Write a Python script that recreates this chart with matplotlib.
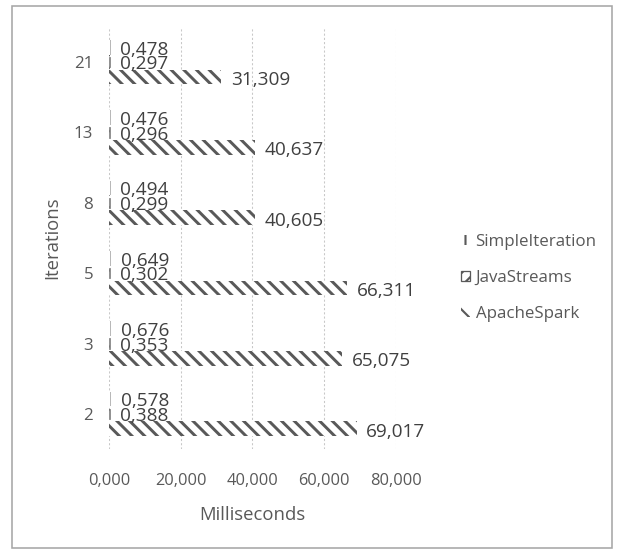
import matplotlib.pyplot as plt
from matplotlib.patches import Rectangle, Patch
import numpy as np

iterations = ["2", "3", "5", "8", "13", "21"]
simple_iteration = [0.578, 0.676, 0.649, 0.494, 0.476, 0.478]
java_streams = [0.388, 0.353, 0.302, 0.299, 0.296, 0.297]
apache_spark = [69.017, 65.075, 66.311, 40.605, 40.637, 31.309]
x_ticks = [0, 20, 40, 60, 80]

plt.rcParams['font.family'] = ['Open Sans', 'DejaVu Sans']

DPI = 76
fig = plt.figure(figsize=(617 / DPI, 549 / DPI), dpi=DPI)
ax = fig.add_axes([109 / 617, 1 - 449 / 549, (396 - 109) / 617, (449 - 27) / 549])

hatch_col = '#595959'
label_col = '#404040'
tick_col = '#595959'

y = np.arange(len(iterations))
h = 0.21

def fmt(v):
    return ("%.3f" % v).replace('.', ',')

series = [
    (simple_iteration, h, '||', 'SimpleIteration', -2, 1.0, '#9a9a9a'),
    (java_streams, 0, '//', 'JavaStreams', -2, 1.5, hatch_col),
    (apache_spark, -h, '\\\\', 'ApacheSpark', -3, 2.8, hatch_col),
]
for vals, off, hatch, name, dy, hlw, hcol in series:
    plt.rcParams['hatch.linewidth'] = hlw
    ax.barh(y + off, vals, height=h, color='white', edgecolor=hcol,
            linewidth=0, hatch=hatch, zorder=2)
    if name == 'JavaStreams':
        ax.barh(y + off, vals, height=h * 0.7, fill=False, edgecolor='#7f7f7f',
                linewidth=0.8, zorder=2)
    for yy, v in zip(y + off, vals):
        ax.annotate(fmt(v), (v, yy), xytext=(9, dy),
                    textcoords='offset points', va='center', ha='left',
                    fontsize=18, color=label_col, zorder=3)

ax.set_xlim(0, 80)
ax.set_ylim(-0.5, 5.5)
ax.set_yticks(y)
ax.set_yticklabels(iterations)
ax.set_xticks(x_ticks)
ax.set_xticklabels(["%d,000" % t for t in x_ticks])
ax.tick_params(axis='y', length=0, labelsize=16, colors=tick_col, pad=15)
ax.tick_params(axis='x', length=0, labelsize=15.5, colors=tick_col, pad=23)
ax.xaxis.grid(True, color='#c8c8c8', linestyle=(0, (2, 2)), linewidth=1, zorder=0)
ax.set_axisbelow(True)
for s in ax.spines.values():
    s.set_visible(False)
ax.set_xlabel('Milliseconds', fontsize=17.5, color=tick_col, labelpad=16)
ax.set_ylabel('Iterations', fontsize=17.5, color=tick_col, labelpad=12)

plt.rcParams['hatch.linewidth'] = 2.0
handles = [
    Patch(facecolor='white', edgecolor=hatch_col, hatch='||', linewidth=0),
    Patch(facecolor='white', edgecolor=hatch_col, hatch='//', linewidth=1.2),
    Patch(facecolor='white', edgecolor=hatch_col, hatch='\\\\', linewidth=0),
]
leg = fig.legend(handles, ['SimpleIteration', 'JavaStreams', 'ApacheSpark'],
                 loc='center left', bbox_to_anchor=(446 / 617, 1 - 278 / 549),
                 frameon=False, fontsize=16, labelcolor=tick_col,
                 handlelength=0.5, handleheight=0.5, handletextpad=0.35,
                 labelspacing=1.2)

fig.add_artist(Rectangle((12 / 617, 1 / 549), 600 / 617, 542 / 549,
                         transform=fig.transFigure, fill=False,
                         edgecolor='#a6a6a6', linewidth=1.5))

fig.savefig('out.png', dpi=DPI)
